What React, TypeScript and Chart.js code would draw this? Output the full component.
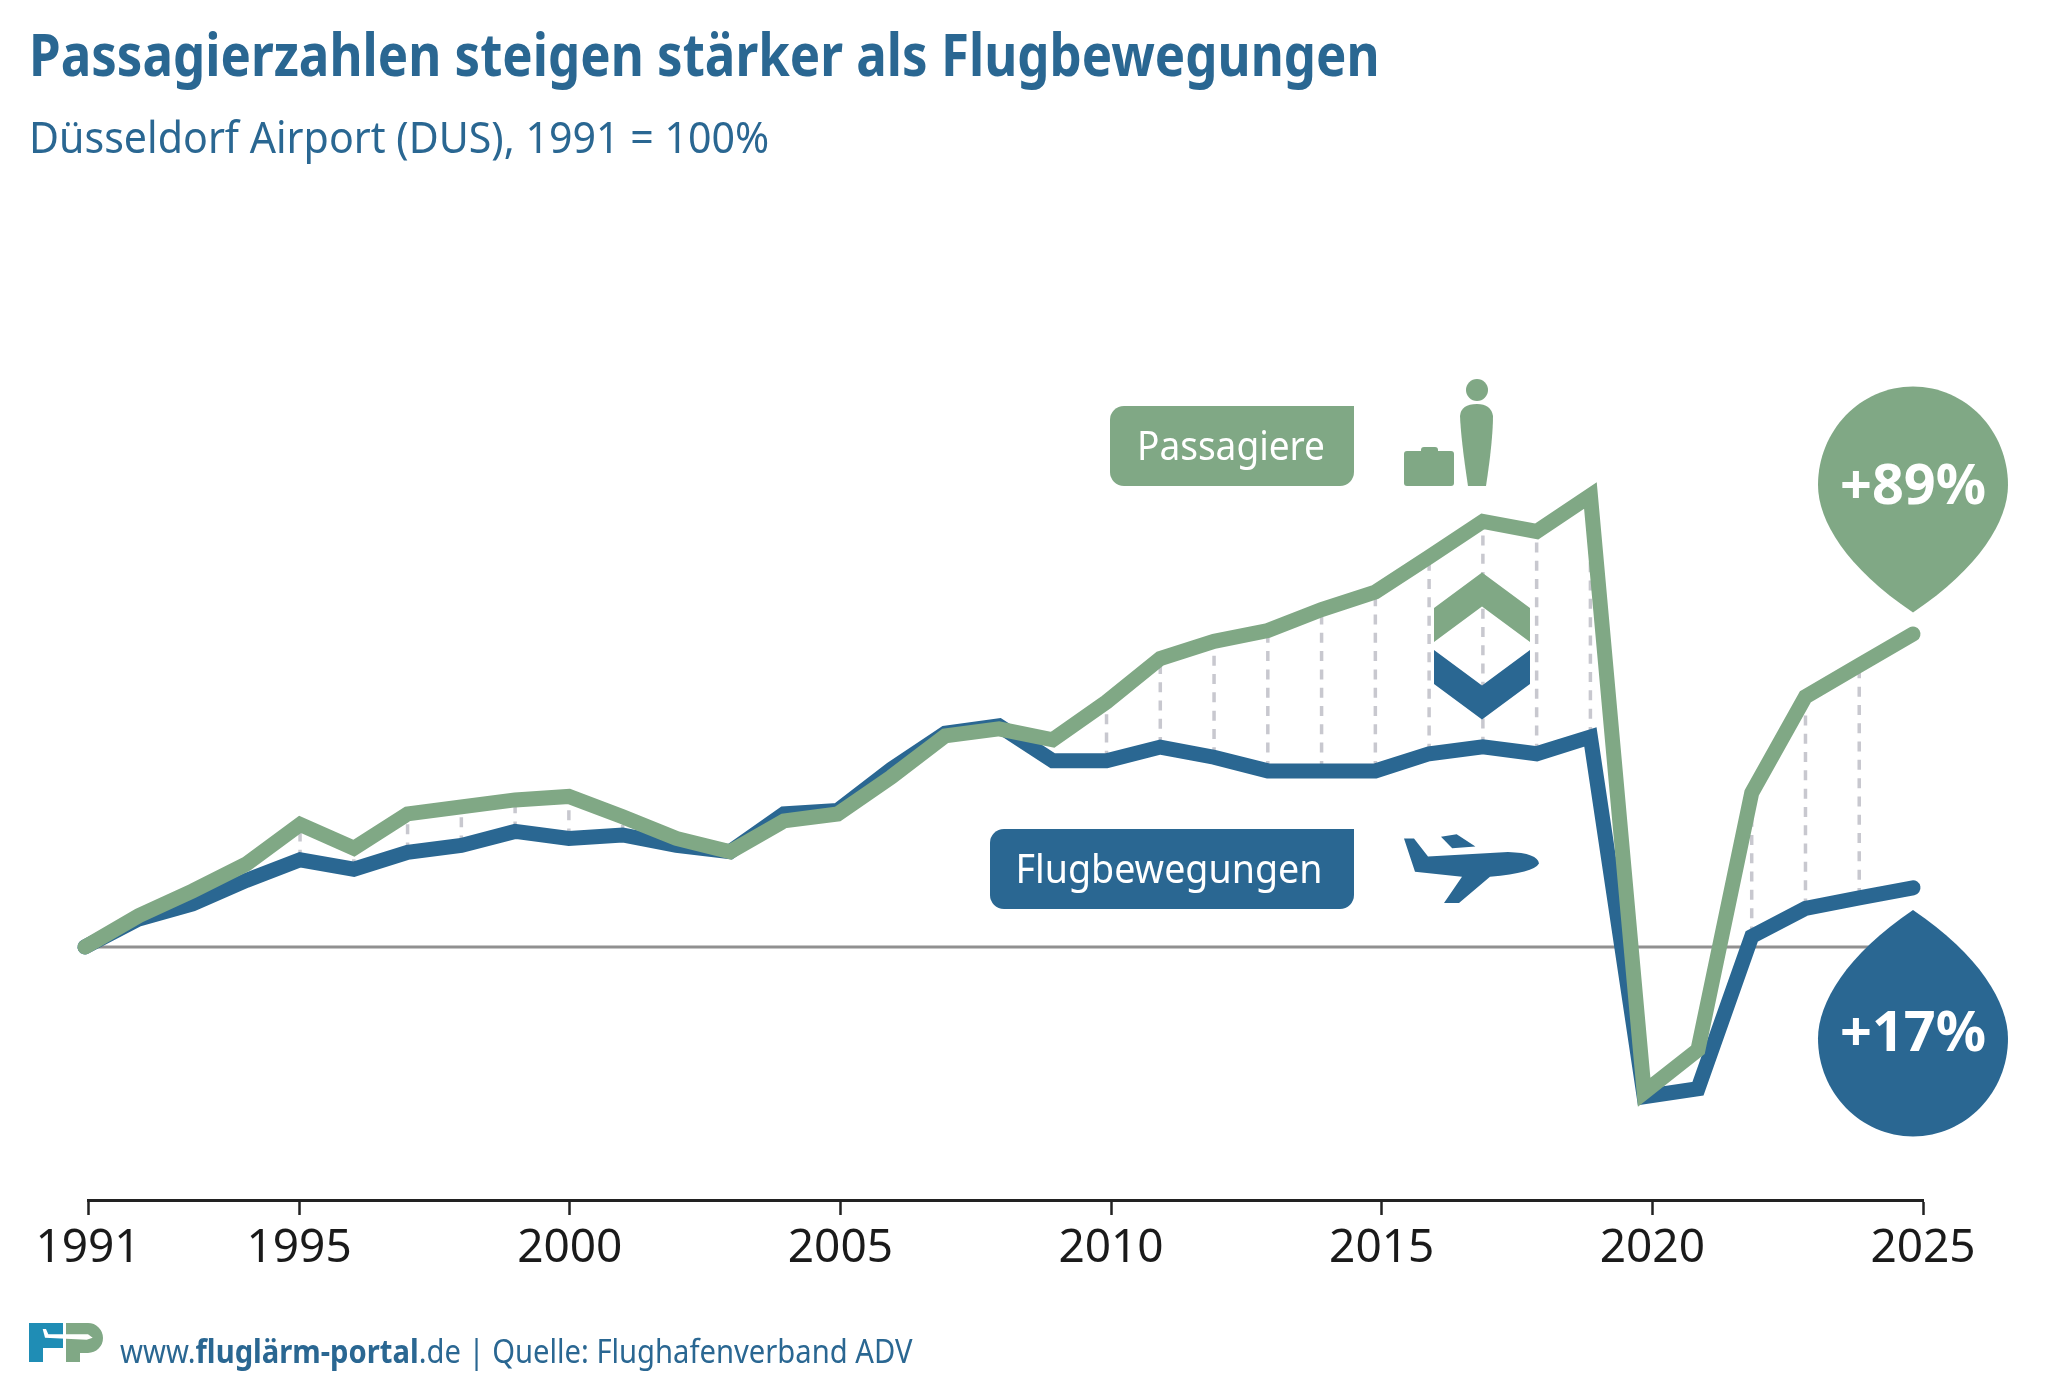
import { useEffect, useRef } from 'react'
import { Chart, registerables, type Plugin } from 'chart.js'

Chart.register(...registerables)

const BLUE = '#2a6792'
const GREEN = '#80a885'

const years = [
  1991, 1992, 1993, 1994, 1995, 1996, 1997, 1998, 1999, 2000, 2001, 2002, 2003, 2004, 2005, 2006, 2007,
  2008, 2009, 2010, 2011, 2012, 2013, 2014, 2015, 2016, 2017, 2018, 2019, 2020, 2021, 2022, 2023, 2024, 2025,
]
const passagiere = [
  100, 108.9, 116, 123.7, 135, 128.2, 138, 140, 142, 143, 137.2, 131, 127.2, 136, 138, 148.6, 160.3,
  162.3, 159.2, 170, 182.4, 187.3, 190.4, 196.4, 201.4, 211.4, 221.6, 218.7, 229, 58.5, 70.6, 144, 171.5, 180.5, 189.4,
]
const flugbewegungen = [
  100, 108, 112.3, 119, 124.9, 122.2, 127, 129, 133, 131, 132, 129, 127.2, 138, 139, 150.8, 161.1,
  163.2, 153.2, 153.2, 157.1, 154.2, 150.3, 150.3, 150.3, 155.2, 157.2, 155.2, 160, 57.2, 59.5, 103, 111, 114, 116.9,
]
const baseline = years.map(() => 100)
const dropYears = [
  1995, 1996, 1997, 1998, 1999, 2000, 2001, 2010, 2011, 2012, 2013, 2014, 2015, 2016, 2017, 2018, 2019, 2022, 2023, 2024,
]
// first tick sits a little right of the regular spacing in the original
const tickPositions = [1991.1, 1995, 2000, 2005, 2010, 2015, 2020, 2025]
const tickLabels = ['1991', '1995', '2000', '2005', '2010', '2015', '2020', '2025']

const FONT = '"Noto Sans"'

function squeezedText(
  ctx: CanvasRenderingContext2D,
  text: string,
  cx: number,
  y: number,
  font: string,
  targetWidth: number,
) {
  ctx.save()
  ctx.font = font
  ctx.fillStyle = '#fff'
  ctx.textAlign = 'center'
  ctx.textBaseline = 'alphabetic'
  const w = ctx.measureText(text).width
  ctx.translate(cx, y)
  ctx.scale(targetWidth / w, 1)
  ctx.fillText(text, 0, 0)
  ctx.restore()
}

function poly(ctx: CanvasRenderingContext2D, pts: number[][], color: string) {
  ctx.fillStyle = color
  ctx.beginPath()
  pts.forEach(([x, y], i) => (i ? ctx.lineTo(x, y) : ctx.moveTo(x, y)))
  ctx.closePath()
  ctx.fill()
}

function drop(ctx: CanvasRenderingContext2D, cx: number, tipY: number, wideY: number, endY: number, r: number, color: string) {
  const h = wideY - tipY
  const e = endY - wideY
  ctx.fillStyle = color
  ctx.beginPath()
  ctx.moveTo(cx, tipY)
  ctx.bezierCurveTo(cx + r * 0.7, tipY + h * 0.35, cx + r, tipY + h * 0.72, cx + r, wideY)
  ctx.bezierCurveTo(cx + r, wideY + e * 0.552, cx + r * 0.552, endY, cx, endY)
  ctx.bezierCurveTo(cx - r * 0.552, endY, cx - r, wideY + e * 0.552, cx - r, wideY)
  ctx.bezierCurveTo(cx - r, tipY + h * 0.72, cx - r * 0.7, tipY + h * 0.35, cx, tipY)
  ctx.closePath()
  ctx.fill()
}

const dropLines: Plugin<'line'> = {
  id: 'dropLines',
  beforeDatasetsDraw(chart) {
    const { ctx, scales } = chart
    ctx.save()
    ctx.strokeStyle = '#c8c8cf'
    ctx.lineWidth = 3.5
    ctx.setLineDash([10, 8.3])
    dropYears.forEach((yr) => {
      const i = years.indexOf(yr)
      const x = scales.x.getPixelForValue(yr)
      ctx.beginPath()
      ctx.moveTo(x, scales.y.getPixelForValue(flugbewegungen[i]))
      ctx.lineTo(x, scales.y.getPixelForValue(passagiere[i]))
      ctx.stroke()
    })
    ctx.restore()
  },
}

const callouts: Plugin<'line'> = {
  id: 'callouts',
  afterDatasetsDraw(chart) {
    const { ctx } = chart
    ctx.save()

    // label boxes
    ctx.fillStyle = GREEN
    ctx.beginPath()
    ctx.roundRect(1110, 406, 244, 80, [14, 0, 14, 14])
    ctx.fill()
    ctx.fillStyle = BLUE
    ctx.beginPath()
    ctx.roundRect(990, 829, 364, 80, [14, 0, 14, 14])
    ctx.fill()
    squeezedText(ctx, 'Passagiere', 1231, 460, `40px ${FONT}`, 188)
    squeezedText(ctx, 'Flugbewegungen', 1169, 883, `40px ${FONT}`, 307)

    // passenger + suitcase
    ctx.fillStyle = GREEN
    ctx.beginPath()
    ctx.ellipse(1477, 390, 11, 11, 0, 0, Math.PI * 2)
    ctx.fill()
    ctx.beginPath()
    ctx.moveTo(1468, 486)
    ctx.lineTo(1486, 486)
    ctx.quadraticCurveTo(1493, 440, 1493, 416)
    ctx.quadraticCurveTo(1491, 404, 1477, 404)
    ctx.quadraticCurveTo(1461, 404, 1460, 416)
    ctx.quadraticCurveTo(1461, 440, 1468, 486)
    ctx.closePath()
    ctx.fill()
    ctx.beginPath()
    ctx.roundRect(1404, 451, 50, 35, 3)
    ctx.fill()
    ctx.beginPath()
    ctx.roundRect(1421, 447, 17, 8, 3)
    ctx.fill()

    // chevrons
    poly(ctx, [[1482, 572.5], [1530, 608], [1530, 642], [1482, 606.5], [1434, 642], [1434, 608]], GREEN)
    poly(ctx, [[1482, 719.5], [1530, 684], [1530, 650], [1482, 685.5], [1434, 650], [1434, 684]], BLUE)

    // plane
    ctx.fillStyle = BLUE
    ctx.beginPath()
    ctx.moveTo(1404, 838.6)
    ctx.lineTo(1414, 838.6)
    ctx.lineTo(1428, 856.4)
    ctx.lineTo(1508, 852)
    ctx.quadraticCurveTo(1538, 853, 1539, 863.6)
    ctx.quadraticCurveTo(1534, 873, 1490, 876.8)
    ctx.lineTo(1459, 903)
    ctx.lineTo(1444, 903)
    ctx.lineTo(1462, 876.8)
    ctx.lineTo(1415, 871.8)
    ctx.closePath()
    ctx.fill()
    poly(ctx, [[1441, 836.8], [1456.7, 834.3], [1475.4, 846.4], [1452.2, 848.2]], BLUE)

    // percentage drops
    drop(ctx, 1913, 612.5, 485, 386.5, 95, GREEN)
    drop(ctx, 1913, 910, 1038.6, 1136.5, 95, BLUE)
    squeezedText(ctx, '+89%', 1913, 504, `bold 56px ${FONT}`, 146)
    squeezedText(ctx, '+17%', 1913, 1051, `bold 56px ${FONT}`, 146)

    ctx.restore()
  },
}

const textBase: React.CSSProperties = {
  position: 'absolute',
  left: 29,
  margin: 0,
  color: BLUE,
  fontFamily: FONT,
  whiteSpace: 'nowrap',
  transformOrigin: 'left top',
}

export default function App() {
  const canvasRef = useRef<HTMLCanvasElement>(null)

  useEffect(() => {
    document.body.style.margin = '0'
    if (!canvasRef.current) return
    const chart = new Chart(canvasRef.current, {
      type: 'line',
      data: {
        labels: years,
        datasets: [
          {
            label: 'Passagiere',
            data: years.map((x, i) => ({ x, y: passagiere[i] })),
            borderColor: GREEN,
            order: 1,
          },
          {
            label: 'Flugbewegungen',
            data: years.map((x, i) => ({ x, y: flugbewegungen[i] })),
            borderColor: BLUE,
            order: 2,
          },
          {
            label: '1991',
            data: years.map((x, i) => ({ x, y: baseline[i] })),
            borderColor: '#909090',
            borderWidth: 3,
            borderCapStyle: 'butt',
            order: 3,
          },
        ],
      },
      options: {
        responsive: false,
        animation: false,
        layout: { padding: { left: 88, right: 123, top: 200, bottom: 0 } },
        clip: false,
        elements: {
          point: { radius: 0 },
          line: { borderWidth: 15, tension: 0, borderJoinStyle: 'miter', borderCapStyle: 'round' },
        },
        plugins: { legend: { display: false }, tooltip: { enabled: false } },
        scales: {
          // data scale: the year spacing of the curves is slightly tighter than the axis ticks
          x: { type: 'linear', display: false, min: 1991.056, max: 2025.186 },
          axis: {
            type: 'linear',
            position: 'bottom',
            axis: 'x',
            min: 1991.1,
            max: 2025,
            grid: { display: true, drawOnChartArea: false, drawTicks: true, tickLength: 15, tickWidth: 2.5, tickColor: '#222' },
            border: { display: true, color: '#222', width: 3 },
            afterBuildTicks: (s) => {
              s.ticks = tickPositions.map((value) => ({ value }))
            },
            afterFit: (s) => {
              s.height = 1395 - 1200
            },
            ticks: {
              autoSkip: false,
              maxRotation: 0,
              color: '#1a1a1a',
              padding: 6,
              font: { family: 'Noto Sans', size: 46 },
              callback: (_v, i) => tickLabels[i],
            },
          },
          y: { display: false, min: 27.7, max: 313.4 },
        },
      },
      plugins: [dropLines, callouts],
    })
    return () => chart.destroy()
  }, [])

  return (
    <div style={{ position: 'relative', width: 2046, height: 1395 }}>
      <canvas ref={canvasRef} width={2046} height={1395} style={{ display: 'block' }} />
      <h1 style={{ ...textBase, top: 13, fontSize: 60, lineHeight: '80px', fontWeight: 700, transform: 'scaleX(0.85)' }}>
        Passagierzahlen steigen stärker als Flugbewegungen
      </h1>
      <p style={{ ...textBase, top: 107, fontSize: 44, lineHeight: '58px', transform: 'scaleX(0.935)' }}>
        Düsseldorf Airport (DUS), 1991 = 100%
      </p>
      <p style={{ ...textBase, left: 120, top: 1330, fontSize: 32, lineHeight: '42px', transform: 'scaleX(0.912)' }}>
        www.<b>fluglärm-portal</b>.de | Quelle: Flughafenverband ADV
      </p>
      <svg style={{ position: 'absolute', left: 29, top: 1323 }} width={74} height={39} viewBox="0 0 74 39">
        <path d="M0 0H34V25H14V39H0Z" fill="#1f8db5" />
        <path d="M37 0H59A15 15 0 0 1 59 30H51V39H37Z" fill={GREEN} />
        <path d="M13.7 6H17L19.3 11.3H59L63.7 14.7L57.7 16.7L16 14.7Z" fill="#fff" />
      </svg>
    </div>
  )
}
